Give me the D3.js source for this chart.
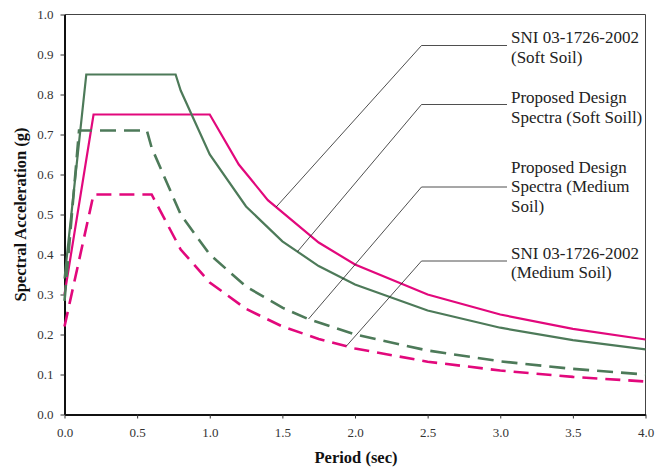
<!DOCTYPE html>
<html>
<head>
<meta charset="utf-8">
<script src="https://cdn.jsdelivr.net/npm/d3@7"></script>
<style>
  html, body { margin: 0; padding: 0; background: #fff; }
  svg { display: block; font-family: "Liberation Serif", "Times New Roman", serif; }
</style>
</head>
<body>
<svg id="chart" width="667" height="472"></svg>
<script>
// ---- Data ----
const xTicks = [0.0, 0.5, 1.0, 1.5, 2.0, 2.5, 3.0, 3.5, 4.0];
const yTicks = [0.0, 0.1, 0.2, 0.3, 0.4, 0.5, 0.6, 0.7, 0.8, 0.9, 1.0];

const periodProposedSoft = [0, 0.15, 0.765, 0.8, 1.0, 1.25, 1.5, 1.75, 2.0, 2.5, 3.0, 3.5, 4.0];
const accelProposedSoft  = [0.34, 0.85, 0.85, 0.81, 0.65, 0.52, 0.433, 0.371, 0.325, 0.26, 0.217, 0.186, 0.163];

const periodSniSoft = [0, 0.2, 1.0, 1.2, 1.4, 1.75, 2.0, 2.5, 3.0, 3.5, 4.0];
const accelSniSoft  = [0.30, 0.75, 0.75, 0.625, 0.536, 0.43, 0.375, 0.30, 0.25, 0.214, 0.1875];

const periodProposedMedium = [0, 0.1, 0.567, 0.6, 0.8, 1.0, 1.25, 1.5, 1.67, 2.0, 2.5, 3.0, 3.5, 4.0];
const accelProposedMedium  = [0.284, 0.71, 0.71, 0.667, 0.5, 0.40, 0.32, 0.267, 0.24, 0.20, 0.16, 0.133, 0.114, 0.10];

const periodSniMedium = [0, 0.2, 0.6, 0.8, 1.0, 1.25, 1.5, 1.75, 2.0, 2.5, 3.0, 3.5, 4.0];
const accelSniMedium  = [0.22, 0.55, 0.55, 0.4125, 0.33, 0.264, 0.22, 0.189, 0.165, 0.132, 0.11, 0.094, 0.0825];

const labelTexts = [
  ["SNI 03-1726-2002", "(Soft Soil)"],
  ["Proposed Design", "Spectra (Soft Soill)"],
  ["Proposed Design", "Spectra (Medium", "Soil)"],
  ["SNI 03-1726-2002", "(Medium Soil)"]
];
// period on the curve each leader line points to
const labelTargetPeriod = [1.457, 1.604, 1.68, 1.94];

// ---- Layout ----
const svg = d3.select("#chart");
const x = d3.scaleLinear().domain([0, 4]).range([64.5, 645.5]);
const y = d3.scaleLinear().domain([0, 1]).range([414.5, 14.5]);

const GREEN = "#4d7a59";
const PINK = "#e2087c";

const series = [
  { px: periodSniSoft, py: accelSniSoft, color: PINK, dash: null },
  { px: periodProposedSoft, py: accelProposedSoft, color: GREEN, dash: null },
  { px: periodProposedMedium, py: accelProposedMedium, color: GREEN, dash: "16,8" },
  { px: periodSniMedium, py: accelSniMedium, color: PINK, dash: "15,8" }
];

// frame (top & right)
svg.append("path")
  .attr("d", `M${x(0)},${y(1)}H${x(4)}V${y(0)}`)
  .attr("fill", "none").attr("stroke", "#444").attr("stroke-width", 1);

// axes
const fmt = d3.format(".1f");
const yAxis = svg.append("g").attr("transform", `translate(${x(0)},0)`)
  .call(d3.axisLeft(y).tickValues(yTicks).tickFormat(fmt).tickSize(4).tickSizeOuter(0).tickPadding(7));
const xAxis = svg.append("g").attr("transform", `translate(0,${y(0)})`)
  .call(d3.axisBottom(x).tickValues(xTicks).tickFormat(fmt).tickSize(4).tickSizeOuter(0).tickPadding(9));

[yAxis, xAxis].forEach(g => {
  g.select(".domain").attr("stroke", "#111").attr("stroke-width", 2);
  g.selectAll(".tick line").attr("stroke", "#333").attr("stroke-width", 1);
  g.selectAll(".tick text")
    .attr("fill", "#333")
    .style("font-family", '"Liberation Serif", "Times New Roman", serif')
    .style("font-size", "13px");
});

// series lines
const line = d3.line().x(d => x(d[0])).y(d => y(d[1]));
series.forEach(s => {
  const pts = s.px.map((p, i) => [p, s.py[i]]);
  const path = svg.append("path")
    .datum(pts)
    .attr("d", line)
    .attr("fill", "none")
    .attr("stroke", s.color)
    .attr("stroke-width", s.dash ? 2.6 : 2.2)
    .attr("stroke-linejoin", "miter");
  if (s.dash) path.attr("stroke-dasharray", s.dash);
});

// annotations
function interp(s, t) {
  for (let i = 0; i < s.px.length - 1; i++) {
    if (t >= s.px[i] && t <= s.px[i + 1]) {
      const f = (t - s.px[i]) / (s.px[i + 1] - s.px[i]);
      return s.py[i] + f * (s.py[i + 1] - s.py[i]);
    }
  }
  return s.py[s.py.length - 1];
}
const labelBaselines = [[43, 62.5], [103, 123], [172.5, 192, 211.5], [258.5, 278]];
const leaderY = [45.5, 104.5, 187, 261];
const elbowX = 421.5, textX = 511;
labelTexts.forEach((lines, i) => {
  const s = series[i];
  const t = labelTargetPeriod[i];
  const tx = x(t), ty = y(interp(s, t));
  svg.append("path")
    .attr("d", `M${tx},${ty}L${elbowX},${leaderY[i]}H${textX - 4}`)
    .attr("fill", "none").attr("stroke", "#222").attr("stroke-width", 0.8);
  lines.forEach((txt, j) => {
    svg.append("text")
      .attr("x", textX).attr("y", labelBaselines[i][j])
      .attr("fill", "#222")
      .style("font-size", "17px")
      .text(txt);
  });
});

// axis titles
svg.append("text")
  .attr("x", (x(0) + x(4)) / 2 + 1).attr("y", 463)
  .attr("text-anchor", "middle")
  .style("font-size", "16.5px").style("font-weight", "bold")
  .attr("fill", "#111")
  .text("Period (sec)");
svg.append("text")
  .attr("transform", `translate(26,${(y(0) + y(1)) / 2}) rotate(-90)`)
  .attr("text-anchor", "middle")
  .style("font-size", "16.5px").style("font-weight", "bold")
  .attr("fill", "#111")
  .text("Spectral Acceleration (g)");
</script>
</body>
</html>
